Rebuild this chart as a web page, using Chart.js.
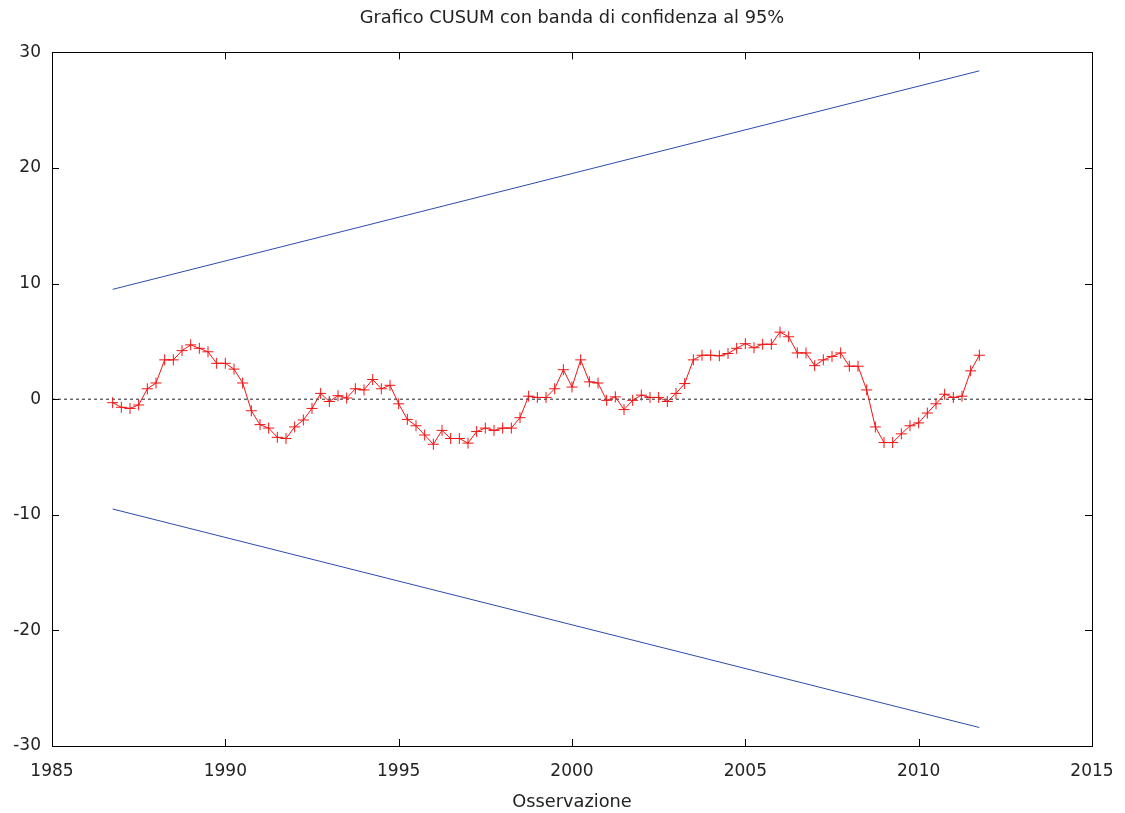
<!DOCTYPE html>
<html>
<head>
<meta charset="utf-8">
<title>Grafico CUSUM</title>
<script src="https://cdn.jsdelivr.net/npm/chart.js@4/dist/chart.umd.min.js"></script>
<style>
  html, body { margin: 0; padding: 0; background: #fff; }
  #wrap { width: 1125px; height: 813px; }
</style>
</head>
<body>
<div id="wrap"><canvas id="cusumChart" width="1125" height="813"></canvas></div>
<script>
// CUSUM values, quarterly, first observation 1986:4
const firstObs = 1986.75;
const obsStep = 0.25;
const cusum = [
    -0.3, -0.7, -0.8, -0.5, 0.9, 1.4, 3.4, 3.4, 4.2, 4.7,
    4.4, 4.1, 3.1, 3.1, 2.6, 1.4, -1.0, -2.2, -2.5, -3.3,
    -3.4, -2.4, -1.8, -0.8, 0.5, -0.2, 0.3, 0.1, 0.9, 0.8,
    1.7, 0.9, 1.2, -0.4, -1.75, -2.3, -3.1, -3.9, -2.7, -3.4,
    -3.4, -3.8, -2.8, -2.5, -2.7, -2.5, -2.5, -1.6, 0.26, 0.15,
    0.15, 0.9, 2.55, 1.05, 3.4, 1.5, 1.4, -0.1, 0.2, -0.9,
    -0.1, 0.35, 0.15, 0.15, -0.2, 0.5, 1.35, 3.4, 3.8, 3.8,
    3.75, 3.95, 4.4, 4.8, 4.45, 4.75, 4.75, 5.8, 5.4, 4.0,
    4.0, 2.9, 3.4, 3.7, 4.0, 2.85, 2.85, 0.8, -2.4, -3.75,
    -3.75, -3.0, -2.3, -2.05, -1.2, -0.4, 0.43, 0.15, 0.26, 2.45,
    3.8
];

// 95% confidence band end points
const bandYears = [1986.75, 2011.75];
const bandUpper = [9.5, 28.4];
const bandLower = [-9.5, -28.4];

// axes
const xTicks = [1985, 1990, 1995, 2000, 2005, 2010, 2015];
const yTicks = [-30, -20, -10, 0, 10, 20, 30];

const FONT = 'DejaVu Sans';
const RED = '#f01414';
const BLUE = '#2b4ba8';

const cusumPoints = cusum.map((v, i) => ({ x: firstObs + i * obsStep, y: v }));
const upperPoints = bandYears.map((x, i) => ({ x: x, y: bandUpper[i] }));
const lowerPoints = bandYears.map((x, i) => ({ x: x, y: bandLower[i] }));
const zeroPoints = [{ x: xTicks[0], y: 0 }, { x: xTicks[xTicks.length - 1], y: 0 }];

// box around the plot area + inward ticks on all four sides (gnuplot style)
const frameTicks = {
    id: 'frameTicks',
    afterDatasetsDraw(chart) {
        const { ctx, chartArea: a, scales } = chart;
        const len = 7;
        ctx.save();
        ctx.strokeStyle = '#000';
        ctx.lineWidth = 1;
        ctx.beginPath();
        scales.x.ticks.forEach(t => {
            const px = Math.round(scales.x.getPixelForValue(t.value)) + 0.5;
            ctx.moveTo(px, a.bottom); ctx.lineTo(px, a.bottom - len);
            ctx.moveTo(px, a.top); ctx.lineTo(px, a.top + len);
        });
        scales.y.ticks.forEach(t => {
            const py = Math.round(scales.y.getPixelForValue(t.value)) + 0.5;
            ctx.moveTo(a.left, py); ctx.lineTo(a.left + len, py);
            ctx.moveTo(a.right, py); ctx.lineTo(a.right - len, py);
        });
        ctx.stroke();
        ctx.strokeRect(Math.round(a.left) + 0.5, Math.round(a.top) + 0.5,
            Math.round(a.right - a.left), Math.round(a.bottom - a.top));
        ctx.restore();
    }
};

new Chart(document.getElementById('cusumChart'), {
    type: 'line',
    data: {
        datasets: [
            {
                label: 'CUSUM',
                data: cusumPoints,
                borderColor: RED,
                borderWidth: 1,
                pointStyle: 'cross',
                pointRadius: 5.5,
                pointBorderWidth: 1,
                pointBorderColor: RED,
                pointBackgroundColor: RED,
                tension: 0
            },
            {
                label: 'zero',
                data: zeroPoints,
                borderColor: '#222',
                borderWidth: 1,
                borderDash: [3, 3],
                pointRadius: 0
            },
            {
                label: 'upper',
                data: upperPoints,
                borderColor: BLUE,
                borderWidth: 1,
                pointRadius: 0
            },
            {
                label: 'lower',
                data: lowerPoints,
                borderColor: BLUE,
                borderWidth: 1,
                pointRadius: 0
            }
        ]
    },
    options: {
        responsive: false,
        animation: false,
        devicePixelRatio: 1,
        layout: { padding: 0 },
        plugins: {
            legend: { display: false },
            tooltip: { enabled: false },
            title: {
                display: true,
                fullSize: false, // centred over the plot area, like gnuplot
                text: 'Grafico CUSUM con banda di confidenza al 95%',
                color: '#222',
                font: { family: FONT, size: 17.8, weight: 'normal' },
                padding: { top: 8, bottom: 23 }
            }
        },
        scales: {
            x: {
                type: 'linear',
                min: xTicks[0],
                max: xTicks[xTicks.length - 1],
                afterBuildTicks: s => { s.ticks = xTicks.map(v => ({ value: v })); },
                afterFit: s => { s.height = 67; },
                // invisible tick marks give the label gap without widening the side padding
                grid: { display: false, drawTicks: true, tickLength: 15 },
                border: { display: false },
                ticks: {
                    color: '#222',
                    font: { family: FONT, size: 17 },
                    padding: 0,
                    maxRotation: 0,
                    callback: v => String(v)
                },
                title: {
                    display: true,
                    text: 'Osservazione',
                    color: '#222',
                    font: { family: FONT, size: 17.8 },
                    padding: { top: 0, bottom: 0 }
                }
            },
            y: {
                type: 'linear',
                min: yTicks[0],
                max: yTicks[yTicks.length - 1],
                afterBuildTicks: s => { s.ticks = yTicks.map(v => ({ value: v })); },
                afterFit: s => { s.width = 52; },
                grid: { display: false, drawTicks: false },
                border: { display: false },
                ticks: {
                    color: '#222',
                    font: { family: FONT, size: 17 },
                    padding: 11
                }
            },
            // empty right-hand margin
            yRight: {
                type: 'linear',
                position: 'right',
                min: yTicks[0],
                max: yTicks[yTicks.length - 1],
                afterFit: s => { s.width = 33; },
                grid: { display: false, drawTicks: false },
                border: { display: false },
                ticks: { display: false }
            }
        }
    },
    plugins: [frameTicks]
});
</script>
</body>
</html>
